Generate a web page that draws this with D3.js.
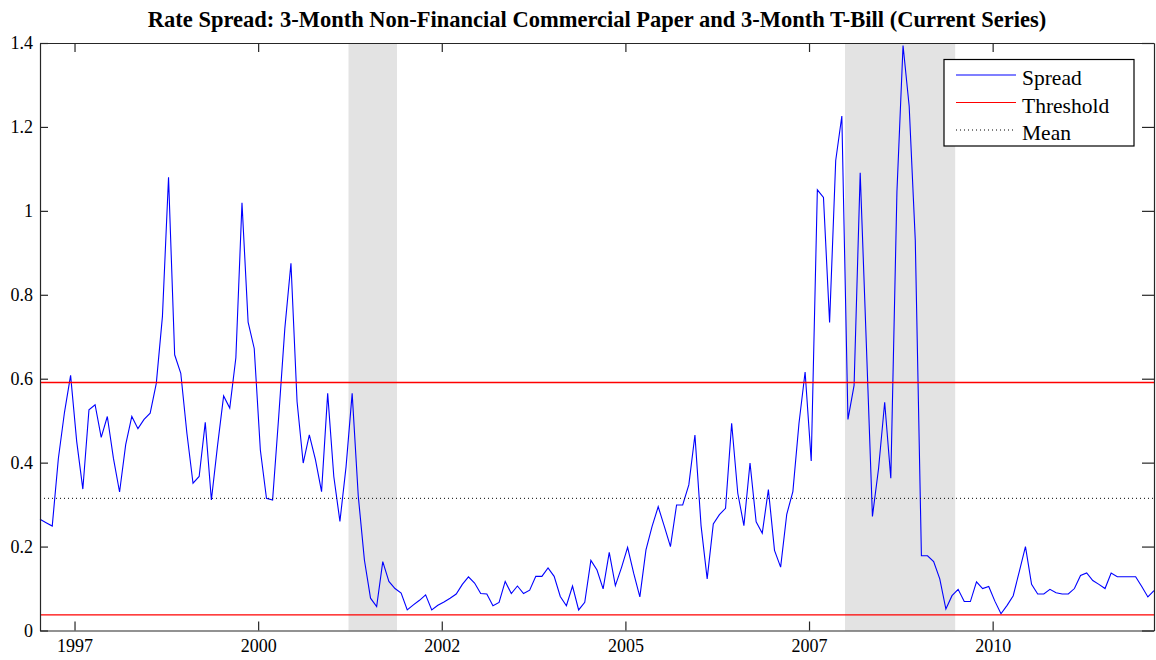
<!DOCTYPE html>
<html>
<head>
<meta charset="utf-8">
<script src="https://cdn.jsdelivr.net/npm/d3@7/dist/d3.min.js"></script>
<style>
body { margin: 0; background: #fff; }
text { font-family: 'Liberation Serif', 'Times New Roman', serif; }
</style>
</head>
<body>
<svg id="chart" width="1156" height="660"></svg>
<script>
// monthly observations, first one is Jan 1997
var startYear = 1997;
var spread = [
  0.265, 0.257, 0.249, 0.41, 0.52, 0.608, 0.45, 0.337, 0.526, 0.538, 0.46, 0.51,
  0.41, 0.33, 0.443, 0.51, 0.481, 0.503, 0.518, 0.589, 0.748, 1.08, 0.657, 0.613,
  0.47, 0.351, 0.367, 0.496, 0.311, 0.44, 0.559, 0.53, 0.65, 1.019, 0.735, 0.672,
  0.43, 0.315, 0.311, 0.51, 0.72, 0.875, 0.545, 0.399, 0.466, 0.407, 0.331, 0.565,
  0.367, 0.26, 0.39, 0.565, 0.32, 0.168, 0.077, 0.057, 0.164, 0.117, 0.1, 0.089,
  0.049, 0.061, 0.072, 0.085, 0.049, 0.06, 0.068, 0.077, 0.087, 0.11, 0.128, 0.113,
  0.088, 0.087, 0.059, 0.067, 0.117, 0.088, 0.106, 0.088, 0.096, 0.129, 0.129, 0.149,
  0.129, 0.081, 0.059, 0.106, 0.049, 0.067, 0.167, 0.144, 0.099, 0.186, 0.107, 0.15,
  0.198, 0.136, 0.08, 0.192, 0.248, 0.295, 0.248, 0.2, 0.299, 0.299, 0.347, 0.466,
  0.25, 0.123, 0.254, 0.276, 0.291, 0.494, 0.327, 0.25, 0.399, 0.259, 0.232, 0.336,
  0.191, 0.151, 0.277, 0.331, 0.494, 0.616, 0.404, 1.05, 1.032, 0.734, 1.12, 1.226,
  0.503, 0.584, 1.091, 0.684, 0.272, 0.386, 0.544, 0.363, 1.045, 1.394, 1.25, 0.93,
  0.178, 0.178, 0.164, 0.123, 0.051, 0.083, 0.098, 0.069, 0.069, 0.116, 0.1, 0.105,
  0.07, 0.04, 0.06, 0.083, 0.141, 0.2, 0.11, 0.087, 0.087, 0.098, 0.09, 0.087,
  0.087, 0.1, 0.131, 0.137, 0.119, 0.11, 0.1, 0.137, 0.128, 0.128, 0.128, 0.128,
  0.105, 0.08, 0.095
];
var thresholdHigh = 0.591;
var thresholdLow = 0.037;
var meanValue = 0.315;
var recessions = [[2001.20, 2001.86], [2007.96, 2009.46]];
var xTickValues = [1997.47, 1999.97, 2002.47, 2004.97, 2007.47, 2009.97];
var xTickLabels = ['1997', '2000', '2002', '2005', '2007', '2010'];
var yTickValues = [0, 0.2, 0.4, 0.6, 0.8, 1, 1.2, 1.4];
var legendLabels = ['Spread', 'Threshold', 'Mean'];
var titleText = 'Rate Spread: 3-Month Non-Financial Commercial Paper and 3-Month T-Bill (Current Series)';

var data = spread.map(function (v, i) {
    return { year: startYear + i / 12, value: v };
});

var margin = { top: 43, right: 2, bottom: 29.5, left: 40 };
var w = 1156 - margin.left - margin.right;
var h = 660 - margin.top - margin.bottom;
var axisColor = '#262626';

var svg = d3.select('#chart');
var g = svg.append('g')
    .attr('transform', 'translate(' + margin.left + ',' + margin.top + ')');

var xScale = d3.scaleLinear()
    .domain(d3.extent(data, function (d) { return d.year; }))
    .range([0, w]);
var yScale = d3.scaleLinear()
    .domain([0, 1.4])
    .range([h, 0]);

// recession shading
g.selectAll('.band')
    .data(recessions)
    .enter()
    .append('rect')
    .attr('class', 'band')
    .attr('x', function (d) { return xScale(d[0]); })
    .attr('y', 0)
    .attr('width', function (d) { return xScale(d[1]) - xScale(d[0]); })
    .attr('height', h)
    .attr('fill', '#e3e3e3');

// spread line
var line = d3.line()
    .x(function (d) { return xScale(d.year); })
    .y(function (d) { return yScale(d.value); });

g.append('path')
    .datum(data)
    .attr('d', line)
    .attr('fill', 'none')
    .attr('stroke', '#0000ff')
    .attr('stroke-width', 1.1);

// threshold and mean lines
g.selectAll('.thresh')
    .data([thresholdHigh, thresholdLow])
    .enter()
    .append('line')
    .attr('class', 'thresh')
    .attr('x1', 0)
    .attr('x2', w)
    .attr('y1', function (d) { return yScale(d); })
    .attr('y2', function (d) { return yScale(d); })
    .attr('stroke', '#ff0000')
    .attr('stroke-width', 1.3);

g.append('line')
    .attr('x1', 0)
    .attr('x2', w)
    .attr('y1', yScale(meanValue))
    .attr('y2', yScale(meanValue))
    .attr('stroke', '#000')
    .attr('stroke-width', 1)
    .attr('stroke-dasharray', '1,3');

// axes, ticks pointing inward on all four sides
var xAxis = d3.axisBottom(xScale)
    .tickValues(xTickValues)
    .tickFormat(function (d, i) { return xTickLabels[i]; })
    .tickSizeInner(-9)
    .tickSizeOuter(0)
    .tickPadding(9);
var xAxisTop = d3.axisTop(xScale)
    .tickValues(xTickValues)
    .tickFormat('')
    .tickSizeInner(-9)
    .tickSizeOuter(0);
var yAxis = d3.axisLeft(yScale)
    .tickValues(yTickValues)
    .tickFormat(function (d) { return d === 0 ? '0' : d3.format('.1f')(d).replace('1.0', '1'); })
    .tickSizeInner(-8)
    .tickSizeOuter(0)
    .tickPadding(7);
var yAxisRight = d3.axisRight(yScale)
    .tickValues(yTickValues)
    .tickFormat('')
    .tickSizeInner(-12)
    .tickSizeOuter(0);

g.append('g').attr('class', 'axis').attr('transform', 'translate(0,' + h + ')').call(xAxis);
g.append('g').attr('class', 'axis').call(xAxisTop);
g.append('g').attr('class', 'axis').call(yAxis);
g.append('g').attr('class', 'axis').attr('transform', 'translate(' + w + ',0)').call(yAxisRight);

g.selectAll('.axis path').attr('stroke', axisColor).attr('stroke-width', 1.2);
g.selectAll('.axis line').attr('stroke', axisColor).attr('stroke-width', 1.2);
g.selectAll('.axis text')
    .attr('fill', '#000')
    .style('font-family', "'Liberation Serif', serif")
    .style('font-size', '18px');

// title
svg.append('text')
    .attr('x', margin.left + w / 2)
    .attr('y', 26.5)
    .attr('text-anchor', 'middle')
    .style('font-size', '22.5px')
    .style('font-weight', 'bold')
    .attr('fill', '#000')
    .text(titleText);

// legend
var legend = svg.append('g').attr('transform', 'translate(944,59.5)');
legend.append('rect')
    .attr('width', 190)
    .attr('height', 86.5)
    .attr('fill', '#fff')
    .attr('stroke', '#000')
    .attr('stroke-width', 1.2);

var legendStyles = [
    { color: '#0000ff', dash: null },
    { color: '#ff0000', dash: null },
    { color: '#000', dash: '1,3' }
];
var items = legend.selectAll('.item')
    .data(legendLabels)
    .enter()
    .append('g')
    .attr('class', 'item')
    .attr('transform', function (d, i) { return 'translate(0,' + (15.5 + i * 27.5) + ')'; });
items.append('line')
    .attr('x1', 12)
    .attr('x2', 72)
    .attr('stroke', function (d, i) { return legendStyles[i].color; })
    .attr('stroke-width', 1.1)
    .attr('stroke-dasharray', function (d, i) { return legendStyles[i].dash; });
items.append('text')
    .attr('x', 78)
    .attr('y', 10)
    .style('font-size', '21.5px')
    .attr('fill', '#000')
    .text(function (d) { return d; });
</script>
</body>
</html>
